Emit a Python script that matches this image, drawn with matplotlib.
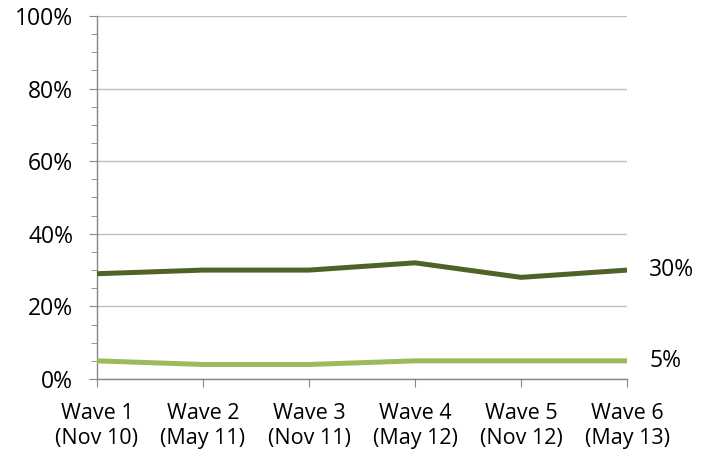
import matplotlib
matplotlib.use("Agg")
import matplotlib.pyplot as plt
from matplotlib.ticker import MultipleLocator, FuncFormatter

categories = ["Wave 1\n(Nov 10)", "Wave 2\n(May 11)", "Wave 3\n(Nov 11)",
              "Wave 4\n(May 12)", "Wave 5\n(Nov 12)", "Wave 6\n(May 13)"]
series_dark = [29, 30, 30, 32, 28, 30]
series_light = [5, 4, 4, 5, 5, 5]

dark_color = "#4F6228"
light_color = "#9BBB59"
axis_color = "#868686"
grid_color = "#BFBFBF"

plt.rcParams["font.family"] = ["Open Sans", "DejaVu Sans"]

fig = plt.figure(figsize=(7.11, 4.54), dpi=100)
ax = fig.add_axes([0.1364, 0.1652, 0.7455, 0.7996])

x = list(range(len(categories)))
ax.plot(x, series_dark, color=dark_color, lw=3.6, solid_capstyle="butt", zorder=3)
ax.plot(x, series_light, color=light_color, lw=3.6, solid_capstyle="butt", zorder=3)

ax.set_xlim(0, len(categories) - 1)
ax.set_ylim(0, 100)
ax.yaxis.set_major_locator(MultipleLocator(20))
ax.yaxis.set_minor_locator(MultipleLocator(5))
ax.yaxis.set_major_formatter(FuncFormatter(lambda v, p: f"{v:.0f}%"))
ax.set_xticks(x)
ax.set_xticklabels(categories, linespacing=1.3)

ax.grid(axis="y", which="major", color=grid_color, lw=1.0, zorder=0)
for s in ["top", "right"]:
    ax.spines[s].set_visible(False)
for s in ["left", "bottom"]:
    ax.spines[s].set_color(axis_color)
    ax.spines[s].set_linewidth(1.0)

ax.tick_params(axis="y", which="major", length=6, color=axis_color, labelsize=16.5, pad=11)
ax.tick_params(axis="y", which="minor", length=4, color=axis_color)
ax.tick_params(axis="x", which="major", length=6, color=axis_color, labelsize=15.5, pad=11)

# value labels at the right end of each line
ax.annotate(f"{series_dark[-1]}%", xy=(x[-1], series_dark[-1]), xytext=(16, 0),
            textcoords="offset points", va="center", ha="left", fontsize=16.5,
            annotation_clip=False)
ax.annotate(f"{series_light[-1]}%", xy=(x[-1], series_light[-1]), xytext=(16, 0),
            textcoords="offset points", va="center", ha="left", fontsize=16.5,
            annotation_clip=False)

fig.savefig("out.png", dpi=100)
